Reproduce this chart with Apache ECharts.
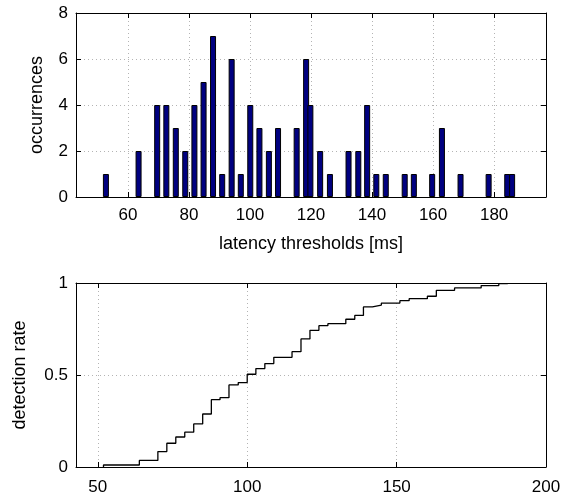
<!DOCTYPE html>
<html>
<head>
<meta charset="utf-8">
<script src="https://cdn.jsdelivr.net/npm/echarts@6.0.0/dist/echarts.min.js"></script>
<style>
html,body{margin:0;padding:0;background:#fff;}
#chart{width:569px;height:496px;}
</style>
</head>
<body>
<div id="chart"></div>
<script>
// histogram of latency thresholds
var barX = [52.8, 63.5, 69.6, 72.6, 75.7, 78.8, 81.8, 84.8, 87.9, 90.9, 94.0, 97.0, 100.1, 103.1, 106.2, 109.2,
	115.3, 118.4, 119.8, 123.0, 126.2, 132.3, 135.5, 138.4, 141.4, 144.5, 150.7, 153.7, 159.7, 162.9, 169.0, 178.2, 184.3, 185.9];
var barCount = [1, 2, 4, 4, 3, 2, 4, 5, 7, 1, 6, 1, 4, 3, 2, 3,
	3, 6, 4, 2, 1, 2, 2, 4, 1, 1, 1, 1, 1, 3, 1, 1, 1, 1];
// detection rate (stairs)
var cdfX = [51.9, 51.9, 63.9, 70.1, 73.1, 76.1, 79.1, 82.1, 85.1, 88.0, 90.9, 93.9, 97.0, 100.0, 102.9, 105.9, 108.9,
	115.0, 118.0, 121.0, 124.0, 127.0, 133.0, 136.0, 138.9, 141.9, 144.9, 151.1, 154.2, 160.3, 163.3, 169.4, 178.3, 184.2, 187.2];
var cdfY = [0, 0.011, 0.036, 0.084, 0.129, 0.163, 0.189, 0.234, 0.288, 0.366, 0.377, 0.446, 0.459, 0.504, 0.535, 0.562, 0.596,
	0.627, 0.696, 0.743, 0.768, 0.779, 0.803, 0.824, 0.870, 0.880, 0.891, 0.904, 0.915, 0.928, 0.960, 0.973, 0.986, 0.997, 1.0];
// tick labels
var topXTicks = [60, 80, 100, 120, 140, 160, 180];
var bottomXTicks = [50, 100, 150, 200];

var FONT = 'Liberation Sans';

function pairs(xs, ys){
	var out = [];
	for (var i = 0; i < xs.length; i++) out.push([xs[i], ys[i]]);
	return out;
}
function gridLine(){
	return {show: true, lineStyle: {color: '#b4b4b4', type: [1, 3], width: 1}};
}
function boxLine(){
	return {show: true, onZero: false, lineStyle: {color: '#000', width: 1}};
}
function xAxisOf(grid, min, max, ticks, pos, withLabels){
	return {
		type: 'value', gridIndex: grid, min: min, max: max, position: pos,
		axisLine: boxLine(),
		axisTick: {show: true, inside: true, length: 5, customValues: ticks, lineStyle: {color: '#000'}},
		axisLabel: withLabels ? {show: true, customValues: ticks, color: '#000', fontSize: 17, fontFamily: FONT, margin: 10} : {show: false},
		splitLine: withLabels ? gridLine() : {show: false}
	};
}
function yAxisOf(grid, max, interval, pos, withLabels){
	return {
		type: 'value', gridIndex: grid, min: 0, max: max, interval: interval, position: pos,
		axisLine: boxLine(),
		axisTick: {show: true, inside: true, length: 5, lineStyle: {color: '#000'}},
		axisLabel: withLabels ? {show: true, color: '#000', fontSize: 17, fontFamily: FONT, margin: 8} : {show: false},
		splitLine: withLabels ? gridLine() : {show: false}
	};
}

function initChart(){
	var chart = echarts.init(document.getElementById('chart'), null, {renderer: 'canvas'});
	var xTop = xAxisOf(0, 43, 197, topXTicks, 'bottom', true);
	xTop.name = 'latency thresholds [ms]';
	xTop.nameLocation = 'middle';
	xTop.nameGap = 38;
	xTop.nameTextStyle = {color: '#000', fontSize: 18, fontFamily: FONT};
	var yTop = yAxisOf(0, 8, 2, 'left', true);
	yTop.name = 'occurrences';
	yTop.nameLocation = 'middle';
	yTop.nameGap = 30;
	yTop.nameTextStyle = {color: '#000', fontSize: 18, fontFamily: FONT};
	var xBot = xAxisOf(1, 42.7, 200, bottomXTicks, 'bottom', true);
	xBot.axisLabel.margin = 12;
	var yBot = yAxisOf(1, 1, 0.5, 'left', true);
	yBot.name = 'detection rate';
	yBot.nameLocation = 'middle';
	yBot.nameGap = 47;
	yBot.nameTextStyle = {color: '#000', fontSize: 18, fontFamily: FONT};

	var option = {
		animation: false,
		backgroundColor: '#fff',
		grid: [
			{left: 76, top: 13, width: 470, height: 184},
			{left: 76, top: 283, width: 470, height: 184}
		],
		xAxis: [
			xTop,
			xAxisOf(0, 43, 197, topXTicks, 'top', false),
			xBot,
			xAxisOf(1, 42.7, 200, bottomXTicks, 'top', false)
		],
		yAxis: [
			yTop,
			yAxisOf(0, 8, 2, 'right', false),
			yBot,
			yAxisOf(1, 1, 0.5, 'right', false)
		],
		series: [
			{
				type: 'bar', xAxisIndex: 0, yAxisIndex: 0,
				barWidth: 6,
				itemStyle: {color: '#000080', borderColor: '#000', borderWidth: 1},
				data: pairs(barX, barCount)
			},
			{
				type: 'line', xAxisIndex: 2, yAxisIndex: 2,
				step: 'end', symbol: 'none',
				lineStyle: {color: '#000', width: 1.3},
				data: pairs(cdfX, cdfY)
			}
		]
	};
	chart.setOption(option);
}
initChart();
</script>
</body>
</html>
